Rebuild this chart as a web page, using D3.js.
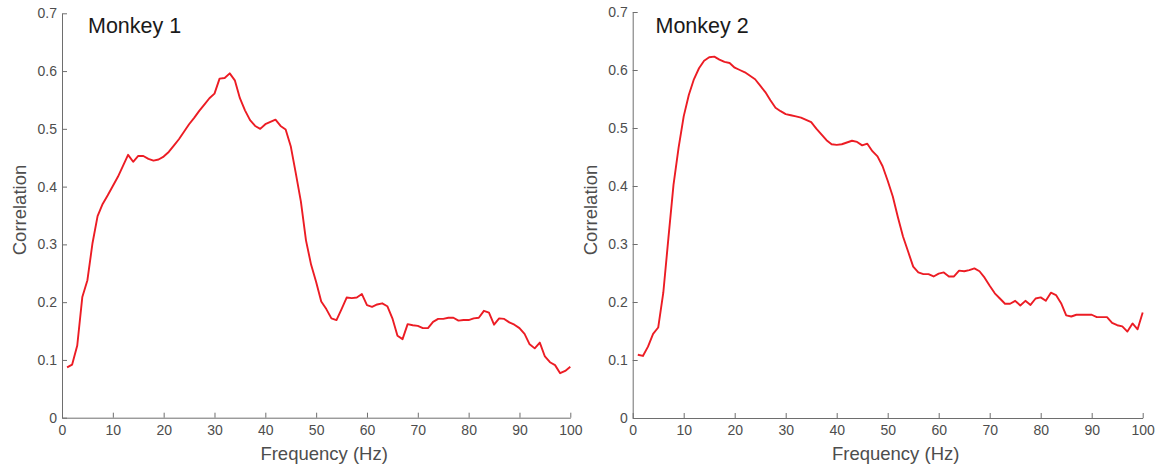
<!DOCTYPE html>
<html>
<head>
<meta charset="utf-8">
<script src="https://d3js.org/d3.v7.min.js"></script>
<style>
  body { margin: 0; background: #fff; }
  svg { display: block; }
  .tick text { font-family: "Liberation Sans", Arial, Helvetica, sans-serif; font-size: 14px; fill: #4d4d4d; }
  .label { font-family: "Liberation Sans", Arial, Helvetica, sans-serif; font-size: 18.5px; fill: #4d4d4d; }
  .title { font-family: "Liberation Sans", Arial, Helvetica, sans-serif; font-size: 21.5px; fill: #1a1a1a; }
</style>
</head>
<body>
<div id="chart"></div>
<script>
// frequency bins, 1 Hz steps
var freq = d3.range(1, 101);

var monkey1 = [
  0.087, 0.092, 0.125, 0.209, 0.238, 0.302, 0.349, 0.370, 0.385, 0.401,
  0.417, 0.436, 0.455, 0.443, 0.453, 0.453, 0.448, 0.445, 0.447, 0.452,
  0.460, 0.471, 0.482, 0.495, 0.508, 0.519, 0.531, 0.542, 0.553, 0.561,
  0.587, 0.588, 0.596, 0.584, 0.553, 0.532, 0.515, 0.505, 0.500, 0.508,
  0.512, 0.516, 0.505, 0.499, 0.470, 0.423, 0.374, 0.307, 0.265, 0.235,
  0.201, 0.188, 0.172, 0.169, 0.188, 0.208, 0.207, 0.208, 0.214, 0.195,
  0.192, 0.196, 0.198, 0.193, 0.172, 0.142, 0.136, 0.162, 0.160, 0.159,
  0.155, 0.155, 0.166, 0.171, 0.171, 0.173, 0.173, 0.168, 0.169, 0.169,
  0.172, 0.173, 0.185, 0.182, 0.161, 0.172, 0.171, 0.165, 0.161, 0.155,
  0.145, 0.127, 0.120, 0.130, 0.106, 0.096, 0.091, 0.077, 0.081, 0.088
];

var monkey2 = [
  0.109, 0.107, 0.123, 0.145, 0.156, 0.216, 0.310, 0.402, 0.466, 0.520,
  0.557, 0.584, 0.603, 0.616, 0.622, 0.623, 0.618, 0.614, 0.612, 0.604,
  0.600, 0.596, 0.590, 0.584, 0.573, 0.562, 0.548, 0.535, 0.529, 0.524,
  0.522, 0.520, 0.518, 0.514, 0.510, 0.499, 0.489, 0.479, 0.472, 0.471,
  0.472, 0.475, 0.478, 0.476, 0.470, 0.473, 0.460, 0.451, 0.434, 0.409,
  0.382, 0.346, 0.313, 0.287, 0.261, 0.251, 0.248, 0.248, 0.244, 0.249,
  0.251, 0.244, 0.244, 0.254, 0.253, 0.255, 0.258, 0.253, 0.242, 0.228,
  0.215, 0.206, 0.197, 0.197, 0.202, 0.194, 0.202, 0.195, 0.206, 0.208,
  0.202, 0.216, 0.212, 0.198, 0.177, 0.175, 0.178, 0.178, 0.178, 0.178,
  0.174, 0.174, 0.174, 0.164, 0.160, 0.158, 0.149, 0.163, 0.153, 0.182
];

var titles = ['Monkey 1', 'Monkey 2'];
var xTicks = [0, 10, 20, 30, 40, 50, 60, 70, 80, 90, 100];
var yTicks = [0, 0.1, 0.2, 0.3, 0.4, 0.5, 0.6, 0.7];

var width = 1163, height = 465;

var svg = d3.select('#chart').append('svg')
  .attr('width', width)
  .attr('height', height);

// pixel box of each axes
var panels = [
  { left: 62, right: 570.3, top: 13.3, bottom: 417.7, titleX: 88, values: monkey1, title: titles[0] },
  { left: 632.7, right: 1142.7, top: 12, bottom: 418, titleX: 655.5, values: monkey2, title: titles[1] }
];

panels.forEach(function (p) {
  drawPanel(p);
});

function drawPanel(p) {
  var x = d3.scaleLinear().domain([0, 100]).range([p.left, p.right]);
  var y = d3.scaleLinear().domain([0, 0.7]).range([p.bottom, p.top]);

  var gx = svg.append('g')
    .attr('transform', 'translate(0,' + p.bottom + ')')
    .call(d3.axisBottom(x).tickValues(xTicks).tickSize(-5).tickSizeOuter(0).tickPadding(7));

  var gy = svg.append('g')
    .attr('transform', 'translate(' + p.left + ',0)')
    .call(d3.axisLeft(y).tickValues(yTicks).tickFormat(d3.format('')).tickSize(-5).tickSizeOuter(0).tickPadding(5));

  [gx, gy].forEach(function (g) {
    g.attr('font-family', null).attr('font-size', null);
    g.selectAll('.domain').attr('stroke', '#6e6e6e').attr('stroke-width', 1);
    g.selectAll('.tick line').attr('stroke', '#6e6e6e').attr('stroke-width', 1);
  });

  var line = d3.line()
    .x(function (d, i) { return x(freq[i]); })
    .y(function (d) { return y(d); });

  svg.append('path')
    .datum(p.values)
    .attr('d', line)
    .attr('fill', 'none')
    .attr('stroke', '#ec1c24')
    .attr('stroke-width', 1.9)
    .attr('stroke-linejoin', 'round');

  svg.append('text')
    .attr('class', 'title')
    .attr('x', p.titleX)
    .attr('y', 33)
    .text(p.title);

  svg.append('text')
    .attr('class', 'label')
    .attr('text-anchor', 'middle')
    .attr('x', (p.left + p.right) / 2 + 8)
    .attr('y', 460)
    .text('Frequency (Hz)');

  svg.append('text')
    .attr('class', 'label')
    .attr('text-anchor', 'middle')
    .attr('transform', 'translate(' + (p.left - 36) + ',210) rotate(-90)')
    .text('Correlation');
}
</script>
</body>
</html>
